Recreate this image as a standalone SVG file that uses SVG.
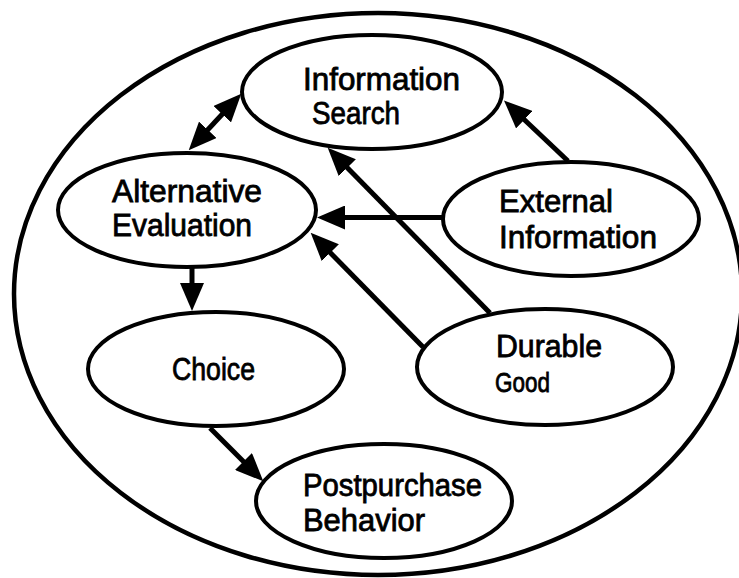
<svg xmlns="http://www.w3.org/2000/svg" width="739" height="578" viewBox="0 0 739 578">
  <style>
    .frame { fill: none; stroke: #000; stroke-width: 4.5; }
    .node ellipse { fill: #fff; stroke: #000; stroke-width: 4; }
    .node text { font-family: "Liberation Sans", Arial, Helvetica, sans-serif; font-size: 31px; fill: #000; stroke: #000; stroke-width: 0.8; }
    .edges path { fill: none; stroke: #000; stroke-width: 5; }
  </style>
  <defs>
    <marker id="head" viewBox="0 -12 28 24" refX="1" refY="0" markerWidth="28" markerHeight="24" markerUnits="userSpaceOnUse" orient="auto-start-reverse">
      <path d="M0,-12 L28,0 L0,12 Z" fill="#000"/>
    </marker>
  </defs>

  <rect width="739" height="578" fill="#fff"/>

  <!-- enclosing boundary -->
  <ellipse class="frame" cx="378" cy="294" rx="364" ry="281"/>

  <!-- connectors (paths end at the arrowhead base) -->
  <g class="edges" id="connectors">
    <path d="M207.1,130.5 L222.9,113.5" marker-start="url(#head)" marker-end="url(#head)"/>
    <path d="M568,161 L523.6,119" marker-end="url(#head)"/>
    <path d="M443,217.5 L344,217.5" marker-end="url(#head)"/>
    <path d="M490,313 L346.6,167" marker-end="url(#head)"/>
    <path d="M423,347 L329.6,252" marker-end="url(#head)"/>
    <path d="M192,267 L192,284" marker-end="url(#head)"/>
    <path d="M210,428 L244.2,462.2" marker-end="url(#head)"/>
  </g>

  <g class="node" id="information-search">
    <ellipse cx="372" cy="92" rx="130" ry="57"/>
    <text x="303" y="90" textLength="157" lengthAdjust="spacingAndGlyphs">Information</text>
    <text x="312" y="124" textLength="88" lengthAdjust="spacingAndGlyphs">Search</text>
  </g>

  <g class="node" id="alternative-evaluation">
    <ellipse cx="187" cy="210" rx="129" ry="57"/>
    <text x="112" y="202" textLength="150" lengthAdjust="spacingAndGlyphs">Alternative</text>
    <text x="112" y="236" textLength="140" lengthAdjust="spacingAndGlyphs">Evaluation</text>
  </g>

  <g class="node" id="external-information">
    <ellipse cx="571" cy="219" rx="128" ry="57"/>
    <text x="499" y="212" textLength="114" lengthAdjust="spacingAndGlyphs">External</text>
    <text x="499" y="248" textLength="158" lengthAdjust="spacingAndGlyphs">Information</text>
  </g>

  <g class="node" id="choice">
    <ellipse cx="216" cy="369" rx="128" ry="57"/>
    <text x="172" y="380" textLength="83" lengthAdjust="spacingAndGlyphs">Choice</text>
  </g>

  <g class="node" id="durable-good">
    <ellipse cx="545" cy="367" rx="128" ry="58"/>
    <text x="496" y="357" textLength="106" lengthAdjust="spacingAndGlyphs">Durable</text>
    <text x="495" y="392" textLength="55" lengthAdjust="spacingAndGlyphs" style="font-size:28px">Good</text>
  </g>

  <g class="node" id="postpurchase-behavior">
    <ellipse cx="384" cy="501" rx="128" ry="57"/>
    <text x="303" y="496" textLength="179" lengthAdjust="spacingAndGlyphs">Postpurchase</text>
    <text x="303" y="531" textLength="122" lengthAdjust="spacingAndGlyphs">Behavior</text>
  </g>
</svg>
